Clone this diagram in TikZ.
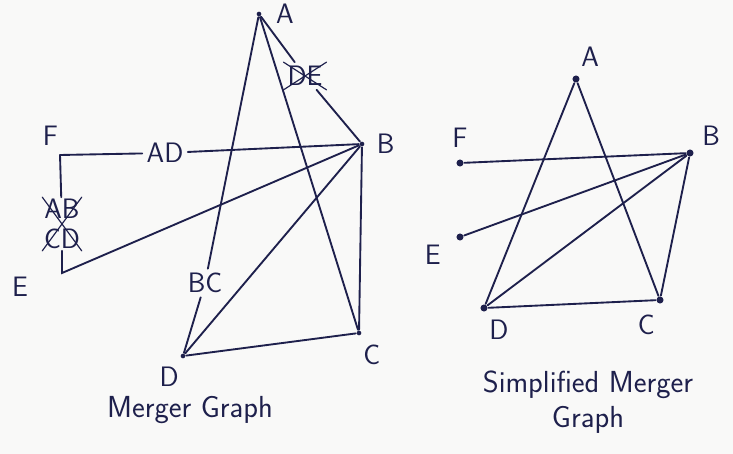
\documentclass[tikz,border=0pt]{standalone}
\usepackage{tikz}
\usetikzlibrary{positioning, shapes.misc}
\definecolor{ink}{RGB}{30,32,76}
\definecolor{paper}{RGB}{249,249,248}

\begin{document}
\begin{tikzpicture}[x=0.03cm, y=-0.03cm, line width=1.6pt, line cap=round,
    lbl/.style={text=ink, font=\sffamily\fontsize{24}{26}\selectfont, inner sep=1pt},
    mid/.style={lbl, inner sep=3pt},
    crossed/.style={mid, cross out, draw=ink, line width=1pt},
    title/.style={text=ink, font=\sffamily\fontsize{26}{30}\selectfont, align=center},
    dot/.style={circle, fill=ink, inner sep=0pt, minimum size=6pt},
    edge/.style={draw=ink}]
    \fill[paper] (0,0) rectangle (733,454);
    \useasboundingbox (0,0) rectangle (733,454);

    % Merger graph
    \node[dot, minimum size=4pt] (A) at (259,14) {};
    \node[dot, minimum size=4pt] (B) at (362,144) {};
    \node[dot, minimum size=4pt] (C) at (359,333) {};
    \node[dot, minimum size=4pt] (D) at (183,356) {};
    \coordinate (F) at (60,155);
    \coordinate (E) at (62,273);
    \node[mid] (AD) at (165,153) {AD};
    \node[mid] (BC) at (205,283) {BC};
    \node[crossed] (DE) at (305,76) {DE};
    \node[crossed, align=center, inner sep=1pt] (ABCD) at (62,224) {AB\\CD};
    \draw[edge] (A) -- (BC) -- (D);
    \draw[edge] (A) -- (C);
    \draw[edge] (A) -- (DE) -- (B);
    \draw[edge] (F) -- (AD) -- (B);
    \draw[edge] (F) -- (ABCD) -- (E) -- (B);
    \draw[edge] (B) -- (D);
    \draw[edge] (B) -- (C);
    \draw[edge] (D) -- (C);
    % Labels
    \node[lbl, right=10pt of A] (lA) {A};
    \node[lbl, right=8pt of B] (lB) {B};
    \node[lbl, below right=6pt and 0pt of C] (lC) {C};
    \node[lbl, below left=6pt and 0pt of D] (lD) {D};
    \node[lbl, above left=6pt and 0pt of F] (lF) {F};
    \node[lbl] (lE) at (20,287) {E};
    \node[title] (mg) at (190,410) {Merger Graph};

    % Simplified merger graph
    \node[dot] (A2) at (576,79) {};
    \node[dot] (B2) at (690,153) {};
    \node[dot] (C2) at (660,300) {};
    \node[dot] (D2) at (484,308) {};
    \node[dot] (F2) at (460,163) {};
    \node[dot] (E2) at (460,237) {};
    \foreach \u/\v in {A2/D2, A2/C2, F2/B2, E2/B2, D2/B2, B2/C2, D2/C2} {
      \draw[edge] (\u) -- (\v);
    }
    % Labels
    \node[lbl, above right=6pt and 0pt of A2] (lA2) {A};
    \node[lbl, above right=2pt and 6pt of B2] (lB2) {B};
    \node[lbl, below left=8pt and 0pt of C2] (lC2) {C};
    \node[lbl, below right=6pt and 0pt of D2] (lD2) {D};
    \node[lbl, above=8pt of F2] (lF2) {F};
    \node[lbl, below left=2pt and 12pt of E2] (lE2) {E};
    \node[title] (smg) at (588,402) {Simplified Merger\\Graph};
\end{tikzpicture}
\end{document}
